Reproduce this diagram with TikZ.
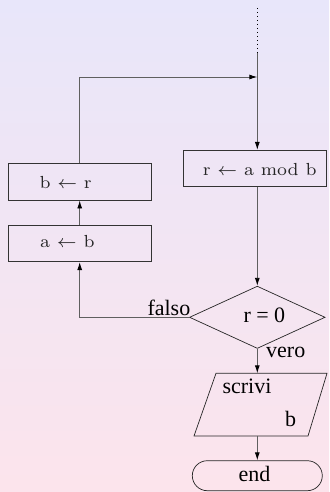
\documentclass[tikz,border=0pt]{standalone}
\usepackage{fontspec}
\usepackage{graphicx}
\newfontfamily\timesfont{Liberation Serif}
\usetikzlibrary{arrows.meta,shapes.geometric,shapes.misc}
\definecolor{bgtop}{RGB}{232,230,250}
\definecolor{bgbot}{RGB}{252,228,236}
\definecolor{linegray}{RGB}{95,95,95}
% assignment text: small optical size, enlarged
\newcommand\assign[1]{\scalebox{2.5}{\fontsize{7}{8}\selectfont #1}}
\tikzset{
  box/.style={draw=black!80, line width=0.8pt, minimum width=142.7pt,
    minimum height=36.7pt, inner sep=0pt},
  lbl/.style={inner sep=0pt, anchor=base west},
  tlbl/.style={lbl, font=\timesfont\fontsize{22}{26}\selectfont},
  conn/.style={draw=linegray, line width=0.9pt},
  arr/.style={conn, -{Latex[length=8pt,width=5pt,color=black]}},
}
\begin{document}
\begin{tikzpicture}[x=1pt,y=-1pt]
\useasboundingbox (0,0) rectangle (329,492);
\shade[top color=bgtop, bottom color=bgbot] (0,0) rectangle (329,492);

% process boxes
\node[box] (br) at (79.7,181.7) {};
\node[box] (ab) at (79.7,243.3) {};
\node[box, minimum width=142.7pt, minimum height=36pt] (ramb) at (254.7,168.3) {};

% decision
\node[draw=black!85, line width=0.7pt, diamond, minimum width=135.6pt,
      minimum height=62.3pt, inner sep=0pt] (cond) at (257.3,317.3) {};

% output parallelogram
\draw[black!85, line width=0.7pt] (216,373.3) -- (327,373.3) -- (308,436) -- (194,436) -- cycle;
\coordinate (pin) at (257.3,373.3);
\coordinate (pout) at (257.3,436);

% terminal
\node[draw=black!85, line width=0.7pt, rounded rectangle, minimum width=130pt,
      minimum height=30pt, inner sep=0pt] (stop) at (257.3,475.7) {};

% connectors
\coordinate (start) at (257.3,8);
\coordinate (s1) at (257.3,53);
\coordinate (join) at (257.3,77);
\draw[black, line width=0.8pt, dash pattern=on 0.9pt off 3.1pt] (start) -- (s1);
\draw[arr] (s1) -- (s1 |- ramb.north);
\draw[arr] (br.north) |- (join);
\draw[arr] (ab.north) -- (br.south);
\draw[arr] (cond.west) -| (ab.south);
\draw[arr] (cond.north |- ramb.south) -- (cond.north);
\draw[arr] (cond.south) -- (pin);
\draw[arr] (pout) -- (stop.north);

% texts
\node[lbl, text=black!85] (t1) at (39.3,188.3) {\assign{b $\leftarrow$ r}};
\node[lbl, text=black!85] (t2) at (40,247.7) {\assign{a $\leftarrow$ b}};
\node[lbl, text=black!85] (t3) at (202.7,175.7) {\assign{r $\leftarrow$ a mod b}};
\node[tlbl] (t4) at (243.3,322.7) {r = 0};
\node[tlbl] (falso) at (147.3,315) {falso};
\node[tlbl] (vero) at (266,357.3) {vero};
\node[tlbl] (scr) at (222.3,393.3) {scrivi};
\node[tlbl] (bb) at (285,426.7) {b};
\node[tlbl, anchor=base] (endt) at (254.5,481.7) {end};
\end{tikzpicture}
\end{document}
